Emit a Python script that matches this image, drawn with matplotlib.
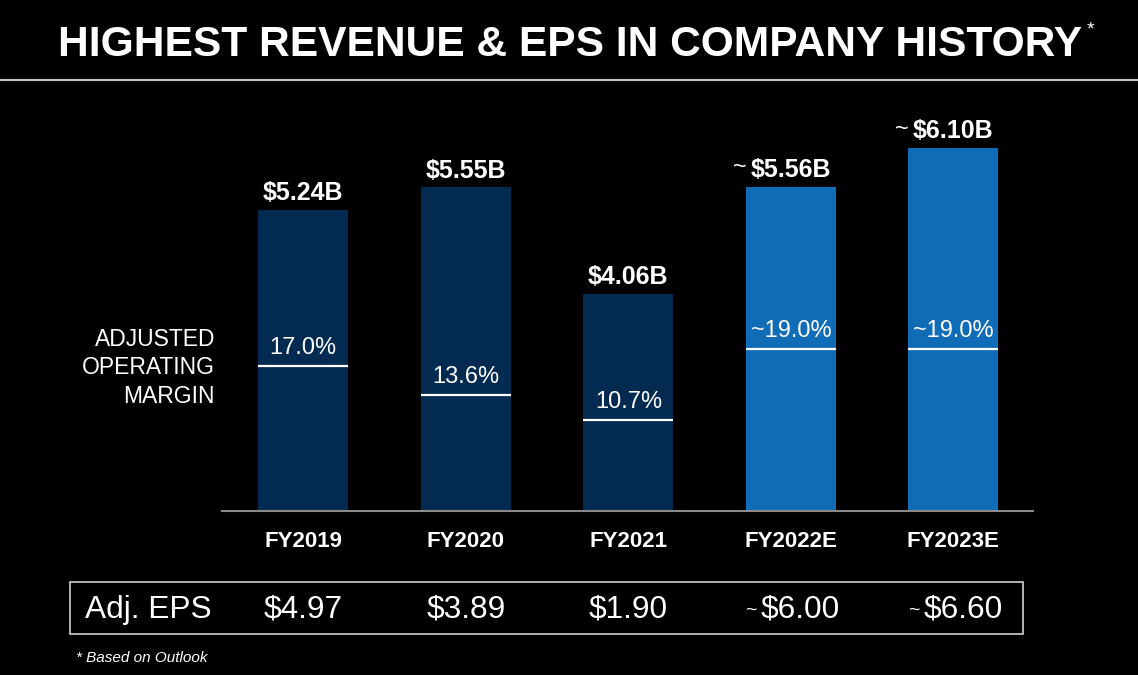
import matplotlib
matplotlib.use("Agg")
import matplotlib.pyplot as plt
from matplotlib.patches import Rectangle
from matplotlib.lines import Line2D
import numpy as np

categories = ["FY2019", "FY2020", "FY2021", "FY2022E", "FY2023E"]
revenue = [5.24, 5.55, 4.06, 5.56, 6.10]
revenue_labels = ["$5.24B", "$5.55B", "$4.06B", "$5.56B", "$6.10B"]
margin = [17.0, 13.6, 10.7, 19.0, 19.0]
margin_labels = ["17.0%", "13.6%", "10.7%", "~19.0%", "~19.0%"]
eps_labels = ["$4.97", "$3.89", "$1.90", "$6.00", "$6.60"]
estimate = [False, False, False, True, True]

W, H = 1138, 675
DARK = "#032a50"
LIGHT = "#106cb6"
BG = "black"

plt.rcParams['font.family'] = ['Liberation Sans', 'DejaVu Sans']
fig = plt.figure(figsize=(W / 100, H / 100), dpi=100, facecolor=BG)

def fx(px):
    return px / W

def fy(py):
    return 1 - py / H

# Title (auto-fit width to reference span 58..1082 px)
title = fig.text(fx(570), fy(45), "HIGHEST REVENUE & EPS IN COMPANY HISTORY",
                 ha="center", va="center", color="white", fontsize=34, fontweight="bold")
renderer = fig.canvas.get_renderer()
tw = title.get_window_extent(renderer).width
title.set_fontsize(34 * 1024 / tw)
fig.text(fx(1087), fy(30), "*", ha="left", va="center", color="white", fontsize=14)
fig.add_artist(Line2D([0, 1], [fy(80), fy(80)], transform=fig.transFigure,
                      color="#c8c8c8", lw=1.5))

# Main axes
ax = fig.add_axes([fx(222), fy(511), fx(1033 - 222), (511 - 100) / H])
ax.set_facecolor(BG)
x = np.arange(len(categories))
colors = [LIGHT if e else DARK for e in estimate]
bw = 90 / 162.5
ax.bar(x, revenue, width=bw, color=colors, zorder=2)
ax.set_xlim(-0.5, 4.49)
ax.set_ylim(1.03, 1.03 + 411 / 71.6)
for s in ["top", "right", "left"]:
    ax.spines[s].set_visible(False)
ax.spines["bottom"].set_color("#8a8a8a")
ax.spines["bottom"].set_linewidth(1.5)
ax.set_xticks([])
ax.set_yticks([])

for xi, r, lab, e in zip(x, revenue, revenue_labels, estimate):
    t = ax.annotate(lab, xy=(xi, r), xytext=(0, 3.5), textcoords="offset points",
                    ha="center", va="bottom", color="white", fontsize=18, fontweight="bold")
    if e:
        ax.annotate("~", xy=(0, 0.5), xycoords=t, xytext=(-3, 1), textcoords="offset points",
                    ha="right", va="center", color="white", fontsize=17)

for xi, c in zip(x, categories):
    ax.annotate(c, xy=(xi, 0), xycoords=("data", "axes fraction"), xytext=(0, -22),
                textcoords="offset points", ha="center", va="center", color="white",
                fontsize=16, fontweight="bold", annotation_clip=False)

# Margin axis
ax2 = ax.twinx()
ax2.set_ylim(0, 411 / 8.55)
ax2.set_xlim(-0.5, 4.49)
ax2.axis("off")
ax2.hlines(margin, x - bw / 2, x + bw / 2, color="white", lw=1.6, zorder=3)
for xi, m, lab in zip(x, margin, margin_labels):
    ax2.annotate(lab, xy=(xi, m), xytext=(0, 4.5), textcoords="offset points",
                 ha="center", va="bottom", color="white", fontsize=17)

fig.text(fx(215), fy(368), "ADJUSTED\nOPERATING\nMARGIN", ha="right", va="center",
         color="white", fontsize=16.5, linespacing=1.28)

# EPS box
fig.add_artist(Rectangle((fx(70), fy(634)), fx(953), 52 / H, transform=fig.transFigure,
                         fill=False, edgecolor="#d0d0d0", lw=1.2))
fig.text(fx(85), fy(610), "Adj. EPS", ha="left", va="center", color="white", fontsize=22.8)
for xi, lab, e in zip(x, eps_labels, estimate):
    off = 7 if e else 0
    t = ax.annotate(lab, xy=(xi, fy(610)), xycoords=("data", "figure fraction"),
                    xytext=(off, 0), textcoords="offset points", ha="center", va="center",
                    color="white", fontsize=22.8, annotation_clip=False)
    if e:
        ax.annotate("~", xy=(0, 0.5), xycoords=t, xytext=(-3, 0), textcoords="offset points",
                    ha="right", va="center", color="white", fontsize=14,
                    annotation_clip=False)

fig.text(fx(76), fy(658), "* Based on Outlook", ha="left", va="center", color="white",
         fontsize=11, style="italic")

fig.savefig("out.png", dpi=100, facecolor=BG)
